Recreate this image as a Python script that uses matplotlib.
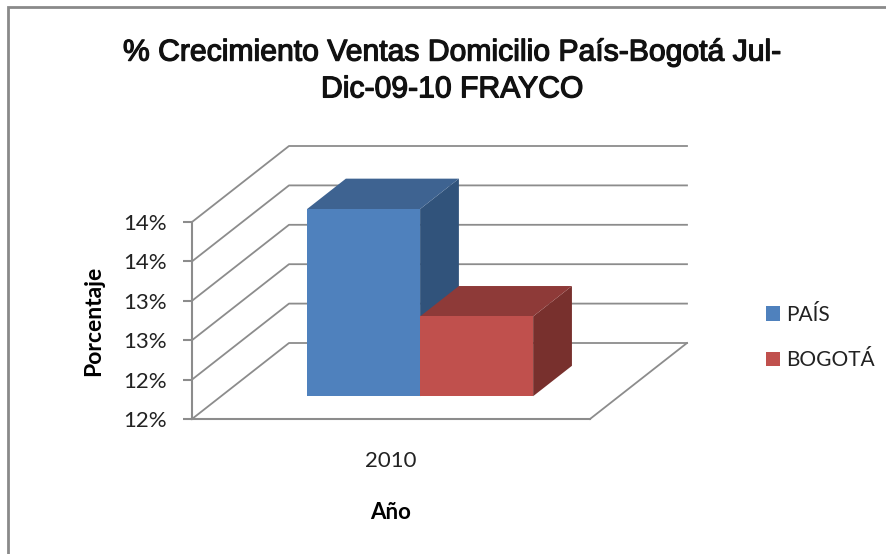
import matplotlib
matplotlib.use("Agg")
import matplotlib.pyplot as plt
import matplotlib.patheffects as pe

categories = ["2010"]
series_names = ["PAÍS", "BOGOTÁ"]
series_values = [13.90, 12.81]
tick_values = [12.0, 12.4, 12.8, 13.2, 13.6, 14.0]
tick_labels = ["12%", "12%", "13%", "13%", "14%", "14%"]
title_text = "% Crecimiento Ventas Domicilio País-Bogotá Jul-\nDic-09-10 FRAYCO"

W, H = 887, 554
GRID = "#8c8c8c"
front_colors = ["#4F81BD", "#C0504D"]
top_colors = ["#3E6391", "#8E3A38"]
side_colors = ["#31537B", "#78302D"]

# oblique depth, in data units of the front plane
DX = 97 / 398
DV = 76 / 98.5
BAR_W = 0.284
D0, D1 = 0.3, 0.7


def project(x, v, d):
    return x + d * DX, v + d * DV


def face(ax, corners, color, **kw):
    pts = [project(*c) for c in corners]
    return ax.fill([p[0] for p in pts], [p[1] for p in pts], color=color,
                   lw=0, clip_on=False, **kw)[0]


fig = plt.figure(figsize=(W / 100, H / 100), dpi=100)
fig.patches.append(plt.Rectangle((8 / W, -0.01), 1.1, 1 - 7 / H + 0.01, transform=fig.transFigure,
                                 fc="white", ec="#8a8a8a", lw=2, zorder=-1))

ax = fig.add_axes([192 / W, 1 - 419 / H, 398 / W, 197 / H])
ax.set_xlim(0, 1)
ax.set_ylim(12, 14)
ax.patch.set_visible(False)
for s in ["top", "right"]:
    ax.spines[s].set_visible(False)
for s in ["left", "bottom"]:
    ax.spines[s].set_color(GRID)
    ax.spines[s].set_linewidth(1.5)

# walls and floor
for v in tick_values:
    pts = [project(0, v, 0), project(0, v, 1), project(1, v, 1)]
    ax.plot([p[0] for p in pts], [p[1] for p in pts], color=GRID, lw=1.3,
            clip_on=False, zorder=1)
pts = [project(1, 12, 0), project(1, 12, 1)]
ax.plot([p[0] for p in pts], [p[1] for p in pts], color=GRID, lw=1.3, clip_on=False, zorder=1)

# 3D bars
x0 = 0.5 - BAR_W
handles = []
for i, val in enumerate(series_values):
    a, b = x0 + i * BAR_W, x0 + (i + 1) * BAR_W
    z = 3 + i
    face(ax, [(b, 12, D0), (b, 12, D1), (b, val, D1), (b, val, D0)], side_colors[i], zorder=z)
    face(ax, [(a, val, D0), (b, val, D0), (b, val, D1), (a, val, D1)], top_colors[i], zorder=z)
    h = face(ax, [(a, 12, D0), (b, 12, D0), (b, val, D0), (a, val, D0)], front_colors[i],
             zorder=z, label=series_names[i])
    handles.append(h)

ax.set_yticks(tick_values)
ax.set_yticklabels(tick_labels, family="Lato", fontsize=16, color="#222222")
ax.tick_params(axis="y", length=6.5, width=1.5, color=GRID, pad=11.5)
ax.set_xticks([0.5])
ax.set_xticklabels(categories, family="Lato", fontsize=16, color="#222222")
ax.tick_params(axis="x", length=0, pad=23)
ax.set_xlabel("Año", family="Lato", fontsize=16, fontweight="bold", labelpad=22.5)
ax.set_ylabel("Porcentaje", family="Lato", fontsize=16.5, fontweight="bold", labelpad=14)

ax.legend(handles, series_names, loc="center left", bbox_to_anchor=(766 / W, 1 - 337.5 / H),
          bbox_transform=fig.transFigure, frameon=False, handlelength=0.69, handleheight=0.69,
          handletextpad=0.27, labelspacing=1.21, borderpad=0, borderaxespad=0,
          prop={"family": "Lato", "size": 15}, labelcolor="#222222")

title = fig.text(452 / W, 1 - 71 / H, title_text, ha="center", va="center",
                 family="Liberation Sans", fontsize=21.7, color="#111111", linespacing=1.4)
title.set_path_effects([pe.withStroke(linewidth=0.9, foreground="#111111")])

fig.savefig("out.png", dpi=100)
